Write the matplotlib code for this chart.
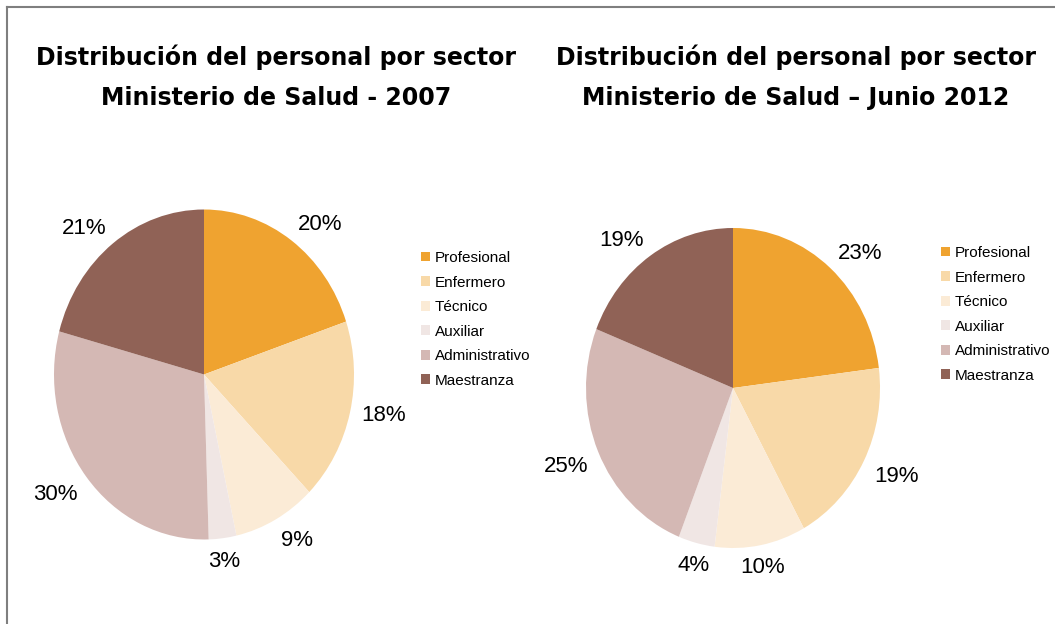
import matplotlib
matplotlib.use("Agg")
import numpy as np
import matplotlib.pyplot as plt
from matplotlib.lines import Line2D

W, H = 1055, 624

categories = ["Profesional", "Enfermero", "Técnico", "Auxiliar", "Administrativo", "Maestranza"]
values_2007 = [20, 18, 9, 3, 30, 21]
values_2012 = [23, 19, 10, 4, 25, 19]
colors = ["#EFA330", "#F8D9A8", "#FBEBD6", "#F0E6E4", "#D4B8B4", "#906256"]

title_2007 = ["Distribución del personal por sector", "Ministerio de Salud - 2007"]
title_2012 = ["Distribución del personal por sector", "Ministerio de Salud \u2013 Junio 2012"]

fig = plt.figure(figsize=(W / 100, H / 100), dpi=100)
fig.patch.set_facecolor("white")


def px_axes(left, top, width, height):
    return fig.add_axes([left / W, 1 - (top + height) / H, width / W, height / H])


def draw_pie(box, values, legend_anchor, dist=1.075):
    ax = px_axes(*box)
    labels = [f"{v}%" for v in values]
    wedges, texts = ax.pie(values, colors=colors, startangle=90, counterclock=False,
                           labels=labels, labeldistance=1.1,
                           wedgeprops=dict(linewidth=0),
                           textprops=dict(fontsize=16, family="Liberation Sans", color="black"))
    ax.set_aspect("auto")
    ax.set_xlim(-1, 1)
    ax.set_ylim(-1, 1)
    ax.axis("off")
    # place labels just outside the rim, aligned like Excel's outside-end labels
    for w, t in zip(wedges, texts):
        ang = np.deg2rad((w.theta1 + w.theta2) / 2)
        cx, cy = np.cos(ang), np.sin(ang)
        t.set_position((dist * cx, dist * cy))
        t.set_ha("left" if cx > 0.3 else ("right" if cx < -0.3 else "center"))
        t.set_va("baseline" if cy > 0.3 else ("top" if cy < -0.3 else "center"))
        t.set_clip_on(False)
    fig.legend(wedges, categories, loc="upper left",
               bbox_to_anchor=(legend_anchor[0] / W, 1 - legend_anchor[1] / H),
               frameon=False, prop=dict(family="Liberation Sans", size=11),
               handlelength=0.6, handleheight=0.6, handletextpad=0.3,
               labelspacing=0.69, borderpad=0, borderaxespad=0)
    return ax


draw_pie((54, 209.5, 300, 330), values_2007, (421, 251))
draw_pie((586, 228, 294, 320), values_2012, (941, 246))

title_kw = dict(ha="center", va="center", fontsize=17, fontweight="bold",
                family="DejaVu Sans", color="black")
fig.text(276 / W, 1 - 57 / H, title_2007[0], **title_kw)
fig.text(276 / W, 1 - 98 / H, title_2007[1], **title_kw)
fig.text(796 / W, 1 - 57 / H, title_2012[0], **title_kw)
fig.text(796 / W, 1 - 98 / H, title_2012[1], **title_kw)

# outer frame (top and left)
fig.add_artist(Line2D([7 / W, 1], [1 - 7 / H, 1 - 7 / H], color="#7f7f7f", lw=1.5,
                      transform=fig.transFigure))
fig.add_artist(Line2D([7 / W, 7 / W], [0, 1 - 7 / H], color="#7f7f7f", lw=1.5,
                      transform=fig.transFigure))

fig.savefig("out.png", dpi=100)
